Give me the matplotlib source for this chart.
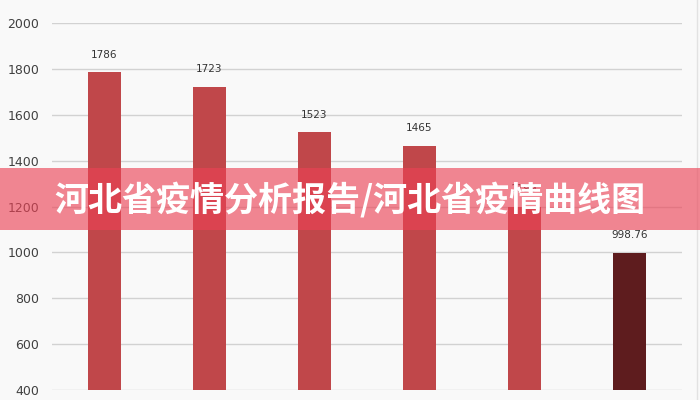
import matplotlib
matplotlib.use("Agg")
import matplotlib.pyplot as plt
from matplotlib.patches import Rectangle
from matplotlib.lines import Line2D

plt.rcParams["font.family"] = ["Noto Sans CJK SC", "DejaVu Sans"]

# data
categories = ["1", "2", "3", "4", "5", "6"]
values = [1786, 1723, 1523, 1465, 1199, 998.76]
value_labels = ["1786", "1723", "1523", "1465", "1199", "998.76"]
bar_colors = ["#c0474a"] * 5 + ["#5e1c1e"]
yticks = [400, 600, 800, 1000, 1200, 1400, 1600, 1800, 2000]
title = "河北省疫情分析报告/河北省疫情曲线图"

fig = plt.figure(figsize=(7, 4), dpi=100, facecolor="#f9f9f9")
ax = fig.add_axes([52 / 700, 10 / 400, 630 / 700, 367 / 400])
ax.set_facecolor("#f9f9f9")

x = list(range(len(categories)))
ax.bar(x, [v - 400 for v in values], bottom=400, width=0.305, color=bar_colors, zorder=3)
for xi, v, lab in zip(x, values, value_labels):
    ax.annotate(lab, (xi, v), xytext=(0, 9), textcoords="offset points",
                ha="center", va="bottom", fontsize=7.5, color="#333333",
                family=["DejaVu Sans"])

ax.set_xlim(-0.5, len(categories) - 0.5)
ax.set_ylim(400, 2000)
ax.set_yticks(yticks)
ax.set_yticklabels([str(t) for t in yticks], fontsize=9, color="#404040",
                   family=["DejaVu Sans"])
ax.set_xticks([])
ax.tick_params(axis="y", length=0, pad=9)
ax.yaxis.grid(True, color="#d2d2d2", lw=1, zorder=0)
for s in ax.spines.values():
    s.set_visible(False)

# faint right border
fig.add_artist(Line2D([697 / 700, 697 / 700], [0, 1], color="#e2e2e2", lw=1))

# translucent banner with title
fig.add_artist(Rectangle((0, 170 / 400), 1, 62 / 400, transform=fig.transFigure,
                         facecolor="#ec4255", alpha=0.63, edgecolor="none", zorder=5))
fig.text(0.5, 0.5, title, ha="center", va="center", fontsize=24.5,
         fontweight=900, color="white", zorder=6)

fig.savefig("out.png", dpi=100, facecolor=fig.get_facecolor())
